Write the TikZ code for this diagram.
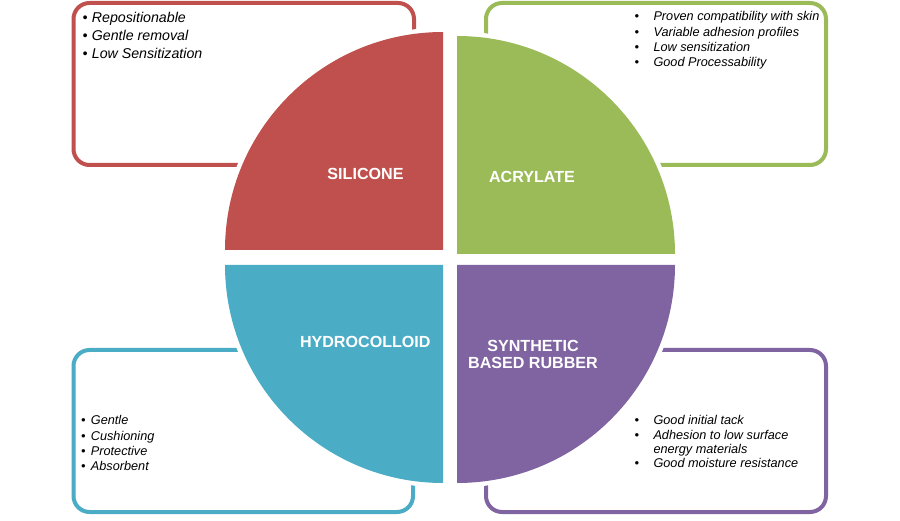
\documentclass[tikz,border=0pt]{standalone}
\usepackage{fontspec}
\setmainfont{Liberation Sans}
\definecolor{cred}{HTML}{C0504D}
\definecolor{cgreen}{HTML}{9BBB59}
\definecolor{cblue}{HTML}{4BACC6}
\definecolor{cpurple}{HTML}{8064A2}
\begin{document}
\begin{tikzpicture}[x=1pt,y=1pt,
  infobox/.style={line width=4pt, fill=white, rounded corners=16pt},
  halo/.style={draw=white, line width=9pt, fill=white, line join=round},
  lbl/.style={font=\fontsize{16.1}{17}\selectfont\bfseries, text=white, inner sep=0pt, align=center},
  bigtxt/.style={font=\fontsize{14.2}{17}\selectfont\itshape, inner sep=0pt, anchor=base west},
  smalltxt/.style={font=\fontsize{12.7}{15}\selectfont\itshape, inner sep=0pt, anchor=base west}
]
\useasboundingbox (0,0) rectangle (900,520);
\fill[white] (0,0) rectangle (900,520);

% boxes
\draw[infobox, draw=cred]    (73.5,355) rectangle (414,517);
\draw[infobox, draw=cgreen]  (486,355) rectangle (826,517);
\draw[infobox, draw=cblue]   (73.5,8) rectangle (413,170);
\draw[infobox, draw=cpurple] (486,8) rectangle (826,170);

% white halos
\path[halo] (443,270) -- ++(-218,0) arc[start angle=180,end angle=90,radius=218] -- cycle;
\path[halo] (457,266) -- ++(218,0) arc[start angle=0,end angle=90,radius=218] -- cycle;
\path[halo] (443,255) -- ++(-218,0) arc[start angle=180,end angle=270,radius=218] -- cycle;
\path[halo] (457,255) -- ++(218,0) arc[start angle=0,end angle=-90,radius=218] -- cycle;

% quadrants
\fill[cred]    (443,270) -- ++(-218,0) arc[start angle=180,end angle=90,radius=218] -- cycle;
\fill[cgreen]  (457,266) -- ++(218,0) arc[start angle=0,end angle=90,radius=218] -- cycle;
\fill[cblue]   (443,255) -- ++(-218,0) arc[start angle=180,end angle=270,radius=218] -- cycle;
\fill[cpurple] (457,255) -- ++(218,0) arc[start angle=0,end angle=-90,radius=218] -- cycle;

% labels
\node[lbl] (silicone) at (365.5,346) {SILICONE};
\node[lbl] (acrylate) at (532,343) {ACRYLATE};
\node[lbl] (hydro) at (365.3,178.3) {HYDROCOLLOID};
\node[lbl] (synth) at (533,165.8) {SYNTHETIC\\BASED RUBBER};

% silicone list
\node[bigtxt] (sb1) at (82.5,497.5) {•};
\node[bigtxt] (s1) at (91.7,497.5) {Repositionable};
\node[bigtxt] (sb2) at (82.5,479.5) {•};
\node[bigtxt] (s2) at (91.7,479.5) {Gentle removal};
\node[bigtxt] (sb3) at (82.5,461.7) {•};
\node[bigtxt] (s3) at (91.7,461.7) {Low Sensitization};

% acrylate list
\node[smalltxt] (ab1) at (634.5,499) {•};
\node[smalltxt] (a1) at (653.3,499) {Proven compatibility with skin};
\node[smalltxt] (ab2) at (634.5,483.8) {•};
\node[smalltxt] (a2) at (653.3,483.8) {Variable adhesion profiles};
\node[smalltxt] (ab3) at (634.5,468.6) {•};
\node[smalltxt] (a3) at (653.3,468.6) {Low sensitization};
\node[smalltxt] (ab4) at (634.5,453.4) {•};
\node[smalltxt] (a4) at (653.3,453.4) {Good Processability};

% hydrocolloid list
\node[smalltxt] (hb1) at (81,95.5) {•};
\node[smalltxt] (h1) at (90.7,95.5) {Gentle};
\node[smalltxt] (hb2) at (81,80) {•};
\node[smalltxt] (h2) at (90.7,80) {Cushioning};
\node[smalltxt] (hb3) at (81,64.5) {•};
\node[smalltxt] (h3) at (90.7,64.5) {Protective};
\node[smalltxt] (hb4) at (81,49.5) {•};
\node[smalltxt] (h4) at (90.7,49.5) {Absorbent};

% rubber list
\node[smalltxt] (rb1) at (634.5,95.5) {•};
\node[smalltxt] (r1) at (653.3,95.5) {Good initial tack};
\node[smalltxt] (rb2) at (634.5,81) {•};
\node[smalltxt] (r2) at (653.3,81) {Adhesion to low surface};
\node[smalltxt] (r2b) at (653.3,67) {energy materials};
\node[smalltxt] (rb3) at (634.5,52.5) {•};
\node[smalltxt] (r3) at (653.3,52.5) {Good moisture resistance};
\end{tikzpicture}
\end{document}
